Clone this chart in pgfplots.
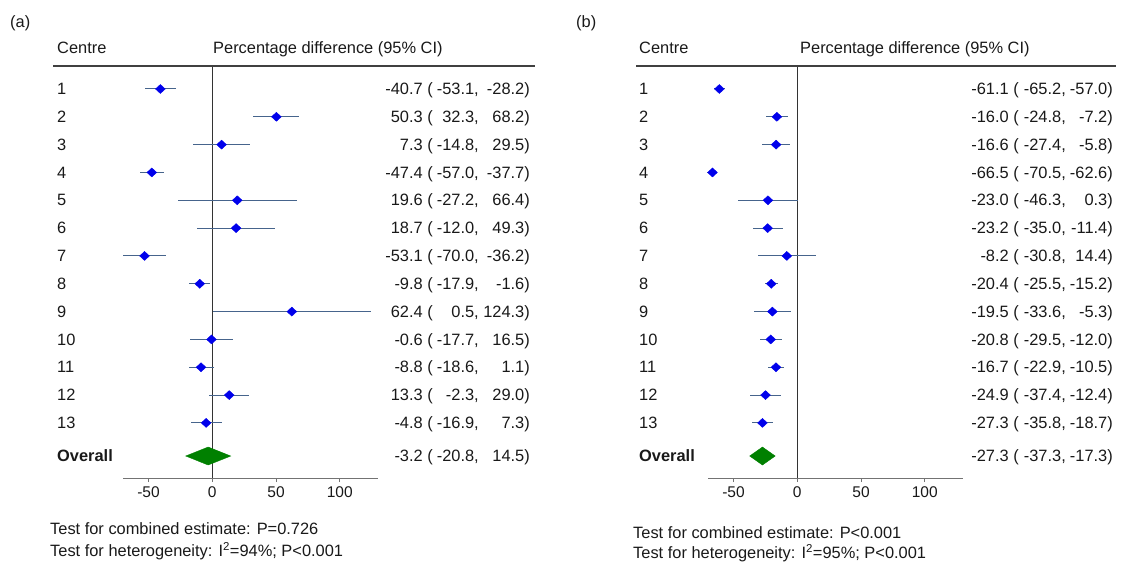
\documentclass[border=0pt]{standalone}
\usepackage{fontspec}
\setmainfont{Liberation Sans}
\usepackage{pgfplots}
\usepackage{pgfplotstable}
\pgfplotsset{compat=1.18}
\definecolor{ci}{RGB}{70,100,140}
\definecolor{mk}{RGB}{0,0,235}
\definecolor{dg}{RGB}{0,128,0}
\definecolor{txt}{RGB}{25,25,25}

\pgfplotstableread{
r est lo hi
1 -40.7 -53.1 -28.2
2 50.3 32.3 68.2
3 7.3 -14.8 29.5
4 -47.4 -57.0 -37.7
5 19.6 -27.2 66.4
6 18.7 -12.0 49.3
7 -53.1 -70.0 -36.2
8 -9.8 -17.9 -1.6
9 62.4 0.5 124.3
10 -0.6 -17.7 16.5
11 -8.8 -18.6 1.1
12 13.3 -2.3 29.0
13 -4.8 -16.9 7.3
}\dataA

\pgfplotstableread{
r est lo hi
1 -61.1 -65.2 -57.0
2 -16.0 -24.8 -7.2
3 -16.6 -27.4 -5.8
4 -66.5 -70.5 -62.6
5 -23.0 -46.3 0.3
6 -23.2 -35.0 -11.4
7 -8.2 -30.8 14.4
8 -20.4 -25.5 -15.2
9 -19.5 -33.6 -5.3
10 -20.8 -29.5 -12.0
11 -16.7 -22.9 -10.5
12 -24.9 -37.4 -12.4
13 -27.3 -35.8 -18.7
}\dataB

\pgfplotsset{forest/.style={
  scale only axis, width=255pt, height=412pt,
  xmin=-70, xmax=130, ymin=-14.98, ymax=-0.174,
  axis x line*=bottom, axis y line=none,
  x axis line style={draw=black!55, line width=1pt, -},
  xtick={-50,0,50,100}, xticklabels={-50,0,50,100},
  ytick=\empty,
  tick align=outside, major tick length=4pt,
  xtick style={draw=black!55, line width=0.8pt},
  tick label style={font=\fontsize{15.5}{18}\selectfont, text=txt, yshift=-1pt},
  clip=false,
}}

\newcommand\fs{\fontsize{16.4}{19.7}\selectfont}

\begin{document}
\begin{tikzpicture}[x=1pt,y=1pt]
\path (0,0) rectangle (1126,563);

% ---------- panel (a)
\begin{axis}[forest, at={(123pt,85pt)}, anchor=south west]
\draw[black!80, line width=1pt] (axis cs:0,-0.174) -- (axis cs:0,-14.98);
\addplot[draw=none, mark=none, forget plot,
  error bars/.cd, x dir=both, x explicit, error mark=none,
  error bar style={draw=ci, line width=1pt}]
  table[x=est, y expr=-\thisrow{r},
        x error minus expr=\thisrow{est}-\thisrow{lo},
        x error plus expr=\thisrow{hi}-\thisrow{est}] {\dataA};
\addplot[only marks, mark=diamond*, mark size=4.5pt,
  mark options={fill=mk, draw=mk, xscale=1.45}]
  table[x=est, y expr=-\thisrow{r}] {\dataA};
\addplot[fill=dg, draw=dg] coordinates
  {(-20.8,-14.19) (-3.2,-13.867) (14.5,-14.19) (-3.2,-14.513)} -- cycle;
\end{axis}

% ---------- panel (b)
\begin{axis}[forest, at={(708pt,85pt)}, anchor=south west]
\draw[black!80, line width=1pt] (axis cs:0,-0.174) -- (axis cs:0,-14.98);
\addplot[draw=none, mark=none, forget plot,
  error bars/.cd, x dir=both, x explicit, error mark=none,
  error bar style={draw=ci, line width=1pt}]
  table[x=est, y expr=-\thisrow{r},
        x error minus expr=\thisrow{est}-\thisrow{lo},
        x error plus expr=\thisrow{hi}-\thisrow{est}] {\dataB};
\addplot[only marks, mark=diamond*, mark size=4.5pt,
  mark options={fill=mk, draw=mk, xscale=1.45}]
  table[x=est, y expr=-\thisrow{r}] {\dataB};
\addplot[fill=dg, draw=dg] coordinates
  {(-37.3,-14.19) (-27.3,-13.867) (-17.3,-14.19) (-27.3,-14.513)} -- cycle;
\end{axis}

\draw[black!75, line width=1.5pt] (53,497) -- (535,497);
\draw[black!75, line width=1.5pt] (636,497) -- (1116,497);

\begin{scope}[yshift=-3pt, every node/.style={inner sep=0pt, text=txt, font=\fs}]
\node[anchor=mid west] at (10,541) {(a)};
\node[anchor=mid west] at (57,515) {Centre};
\node[anchor=mid west] at (213,515) {Percentage difference (95\% CI)};
\foreach \r/\e/\l/\h in {1/-40.7/-53.1/-28.2, 2/50.3/32.3/68.2, 3/7.3/-14.8/29.5,
  4/-47.4/-57.0/-37.7, 5/19.6/-27.2/66.4, 6/18.7/-12.0/49.3, 7/-53.1/-70.0/-36.2,
  8/-9.8/-17.9/-1.6, 9/62.4/0.5/124.3, 10/-0.6/-17.7/16.5, 11/-8.8/-18.6/1.1,
  12/13.3/-2.3/29.0, 13/-4.8/-16.9/7.3}{
  \pgfmathsetmacro\yy{85+27.826*(14.98-\r)}
  \node[anchor=mid west] at (57,\yy) {\r};
  \node[anchor=mid east] at (433,\yy) {\e{} (};
  \node[anchor=mid east] at (479,\yy) {\l,};
  \node[anchor=mid east] at (530,\yy) {\h)};
}
\pgfmathsetmacro\yy{85+27.826*(14.98-14.19)}
\node[anchor=mid west] at (57,\yy) {\bfseries Overall};
\node[anchor=mid east] at (433,\yy) {-3.2 (};
\node[anchor=mid east] at (479,\yy) {-20.8,};
\node[anchor=mid east] at (530,\yy) {14.5)};
\node[anchor=mid west] at (50,34) {Test for combined estimate: P=0.726};
\node[anchor=mid west] at (50,12) {Test for heterogeneity: I\textsuperscript{2}=94\%; P<0.001};

\node[anchor=mid west] at (576,541) {(b)};
\node[anchor=mid west] at (639,515) {Centre};
\node[anchor=mid west] at (800,515) {Percentage difference (95\% CI)};
\foreach \r/\e/\l/\h in {1/-61.1/-65.2/-57.0, 2/-16.0/-24.8/-7.2, 3/-16.6/-27.4/-5.8,
  4/-66.5/-70.5/-62.6, 5/-23.0/-46.3/0.3, 6/-23.2/-35.0/-11.4, 7/-8.2/-30.8/14.4,
  8/-20.4/-25.5/-15.2, 9/-19.5/-33.6/-5.3, 10/-20.8/-29.5/-12.0, 11/-16.7/-22.9/-10.5,
  12/-24.9/-37.4/-12.4, 13/-27.3/-35.8/-18.7}{
  \pgfmathsetmacro\yy{85+27.826*(14.98-\r)}
  \node[anchor=mid west] at (639,\yy) {\r};
  \node[anchor=mid east] at (1019,\yy) {\e{} (};
  \node[anchor=mid east] at (1066,\yy) {\l,};
  \node[anchor=mid east] at (1113,\yy) {\h)};
}
\pgfmathsetmacro\yy{85+27.826*(14.98-14.19)}
\node[anchor=mid west] at (639,\yy) {\bfseries Overall};
\node[anchor=mid east] at (1019,\yy) {-27.3 (};
\node[anchor=mid east] at (1066,\yy) {-37.3,};
\node[anchor=mid east] at (1113,\yy) {-17.3)};
\node[anchor=mid west] at (633,30) {Test for combined estimate: P<0.001};
\node[anchor=mid west] at (633,10) {Test for heterogeneity: I\textsuperscript{2}=95\%; P<0.001};
\end{scope}
\end{tikzpicture}
\end{document}
